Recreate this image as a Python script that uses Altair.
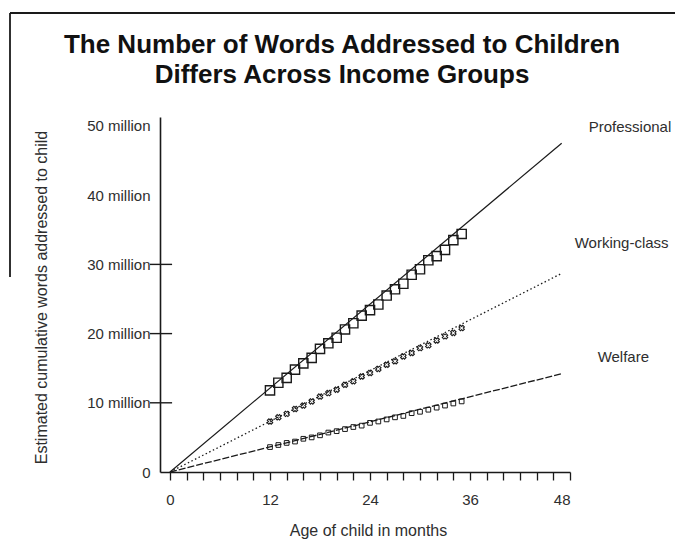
import altair as alt
import pandas as pd

# ---- data (millions of words, months) ----
months = list(range(12, 36))
professional = [11.8, 12.9, 13.6, 14.8, 15.7, 16.5, 17.8, 18.6, 19.4, 20.6, 21.5, 22.6,
                23.4, 24.2, 25.5, 26.4, 27.2, 28.5, 29.3, 30.6, 31.2, 32.1, 33.5, 34.4]
working_class = [7.3, 7.9, 8.4, 9.1, 9.6, 10.2, 10.9, 11.4, 11.9, 12.6, 13.1, 13.8,
                 14.3, 14.9, 15.5, 16.0, 16.7, 17.2, 17.9, 18.3, 19.0, 19.6, 20.1, 20.8]
welfare = [3.6, 3.9, 4.2, 4.4, 4.8, 5.0, 5.3, 5.7, 5.9, 6.2, 6.5, 6.7,
           7.1, 7.3, 7.6, 7.9, 8.1, 8.5, 8.7, 9.0, 9.3, 9.6, 9.9, 10.2]

line_months = [0, 47]
professional_line = [0, 47.5]
working_line = [0, 28.7]
welfare_line = [0, 14.2]

series_names = ["Professional", "Working-class", "Welfare"]
label_values = [49.9, 33.1, 16.6]
label_months = [55.2, 54.2, 54.4]

x_ticks = list(range(0, 49, 2))
y_ticks = [0, 10, 20, 30, 40, 50]
y_major_ticks = [10, 20, 30]

title_lines = ["The Number of Words Addressed to Children", "Differs Across Income Groups"]
x_title = "Age of child in months"
y_title = "Estimated cumulative words addressed to child"

FONT = "Liberation Sans"
INK = "#1a1a1a"
TXT = "#2e2e2e"

pts_prof = pd.DataFrame({"month": months, "value": professional})
pts_work = pd.DataFrame({"month": months, "value": working_class})
pts_welf = pd.DataFrame({"month": months, "value": welfare})
ln_prof = pd.DataFrame({"month": line_months, "value": professional_line})
ln_work = pd.DataFrame({"month": line_months, "value": working_line})
ln_welf = pd.DataFrame({"month": line_months, "value": welfare_line})
labels = pd.DataFrame({"month": label_months, "value": label_values, "name": series_names})
yticks_df = pd.DataFrame({"value": y_major_ticks, "x1": [-2.4] * 3, "x2": [0.25] * 3})
one = pd.DataFrame({"a": [0]})

x_scale = alt.Scale(domain=[-1.2, 48], nice=False, zero=False)
y_scale = alt.Scale(domain=[0, 51.3], nice=False, zero=False)

x_axis = alt.Axis(values=x_ticks, labelExpr="datum.value % 12 == 0 ? datum.label : ''",
                  title=x_title, tickSize=8, tickColor=INK, tickWidth=1.3,
                  domainColor=INK, domainWidth=1.6, grid=False,
                  labelFont=FONT, labelFontSize=15, labelColor=TXT, labelPadding=12,
                  titleFont=FONT, titleFontSize=16, titleFontWeight="normal", titleColor=TXT,
                  titleX=208, titleY=58, titleBaseline="middle", titleAnchor="middle")
y_axis = alt.Axis(values=y_ticks,
                  labelExpr="datum.value == 0 ? '0' : datum.value + ' million'",
                  title=y_title, ticks=False, domainColor=INK, domainWidth=1.6, grid=False,
                  labelFont=FONT, labelFontSize=15, labelColor=TXT, labelPadding=10,
                  titleFont=FONT, titleFontSize=16, titleFontWeight="normal", titleColor=TXT,
                  titleX=-119, titleY=180, titleAngle=-90, titleBaseline="middle",
                  titleAnchor="middle", labelOverlap=False)

X = alt.X("month:Q", scale=x_scale, axis=x_axis)
Y = alt.Y("value:Q", scale=y_scale, axis=y_axis)

line_prof = alt.Chart(ln_prof).mark_line(color=INK, strokeWidth=1.2).encode(x=X, y=Y)
line_work = alt.Chart(ln_work).mark_line(color=INK, strokeWidth=1.3, strokeDash=[1.5, 2.5]).encode(x=X, y=Y)
line_welf = alt.Chart(ln_welf).mark_line(color=INK, strokeWidth=1.3, strokeDash=[7, 2]).encode(x=X, y=Y)

m_prof = alt.Chart(pts_prof).mark_point(shape="square", size=85, filled=False, color=INK,
                                         strokeWidth=1.4, opacity=1).encode(x=X, y=Y)
m_work = alt.Chart(pts_work).mark_point(shape="cross", size=30, filled=False, color=INK,
                                         strokeWidth=1.1, opacity=1, angle=45).encode(x=X, y=Y)
m_welf = alt.Chart(pts_welf).mark_point(shape="square", size=22, filled=False, color=INK,
                                         strokeWidth=1.0, opacity=1).encode(x=X, y=Y)

ytick_rules = alt.Chart(yticks_df).mark_rule(color=INK, strokeWidth=1.4).encode(
    x=alt.X("x1:Q", scale=x_scale, axis=x_axis), x2="x2:Q", y=Y)

series_text = alt.Chart(labels).mark_text(font=FONT, fontSize=15, color=TXT, align="center",
                                          baseline="middle").encode(
    x=X, y=Y, text="name:N")

title_1 = alt.Chart(one).mark_text(font=FONT, fontSize=26, fontWeight="bold", color="#111",
                                   align="center", baseline="middle").encode(
    x=alt.value(182), y=alt.value(-72), text=alt.value(title_lines[0]))
title_2 = alt.Chart(one).mark_text(font=FONT, fontSize=26, fontWeight="bold", color="#111",
                                   align="center", baseline="middle").encode(
    x=alt.value(182), y=alt.value(-42), text=alt.value(title_lines[1]))

frame_top = alt.Chart(one).mark_rule(color=INK, strokeWidth=1.8).encode(
    x=alt.value(-150), x2=alt.value(540), y=alt.value(-104))
frame_left = alt.Chart(one).mark_rule(color=INK, strokeWidth=1.8).encode(
    x=alt.value(-150), y=alt.value(-104), y2=alt.value(160))

chart = alt.layer(
    frame_top, frame_left, title_1, title_2, ytick_rules,
    line_prof, line_work, line_welf,
    m_prof, m_work, m_welf, series_text,
).properties(
    width=410, height=355,
    background="white",
    autosize=alt.AutoSizeParams(type="none"),
    padding={"left": 152, "top": 109, "right": 105, "bottom": 72},
).configure_view(strokeWidth=0, stroke="transparent")

chart.save("out.html", embed_options={"renderer": "svg", "actions": False})
